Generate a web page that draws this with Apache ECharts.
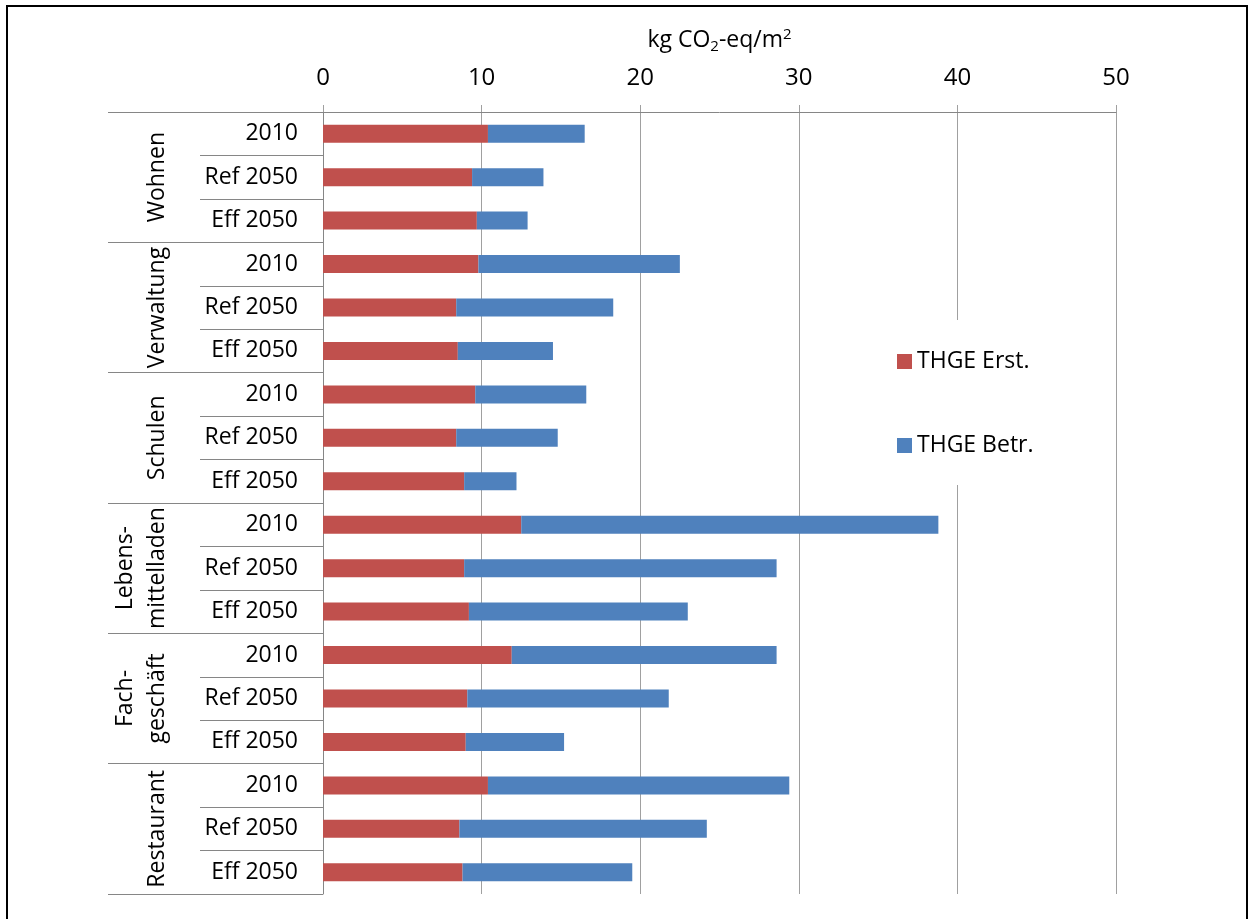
<!DOCTYPE html>
<html>
<head>
<meta charset="utf-8">
<script src="https://cdn.jsdelivr.net/npm/echarts@6/dist/echarts.min.js"></script>
<style>
  html, body { margin: 0; padding: 0; background: #fff; }
  #chart { position: absolute; left: 0; top: 0; width: 1248px; height: 919px; }
  #frame { position: absolute; left: 6px; top: 5px; width: 1242px; height: 1000px; border: 2px solid #000; box-sizing: border-box; pointer-events: none; }
</style>
</head>
<body>
<div id="chart"></div>
<div id="frame"></div>
<script>
// ---- data ----
const groups = ['Wohnen', 'Verwaltung', 'Schulen', 'Lebens-\nmittelladen', 'Fach-\ngeschäft', 'Restaurant'];
const scenarios = ['2010', 'Ref 2050', 'Eff 2050'];
const categories = [
  '2010', 'Ref 2050', 'Eff 2050',
  '2010', 'Ref 2050', 'Eff 2050',
  '2010', 'Ref 2050', 'Eff 2050',
  '2010', 'Ref 2050', 'Eff 2050',
  '2010', 'Ref 2050', 'Eff 2050',
  '2010', 'Ref 2050', 'Eff 2050'
];
const thgeErst = [10.4, 9.4, 9.7, 9.8, 8.4, 8.5, 9.6, 8.4, 8.9, 12.5, 8.9, 9.2, 11.9, 9.1, 9.0, 10.4, 8.6, 8.8];
const thgeBetr = [6.1, 4.5, 3.2, 12.7, 9.9, 6.0, 7.0, 6.4, 3.3, 26.3, 19.7, 13.8, 16.7, 12.7, 6.2, 19.0, 15.6, 10.7];
const xTicks = { min: 0, max: 50, interval: 10 };
const axisTitle = '{a|kg CO}{s|2}{a|-eq/m}{p|2}';
const seriesNames = ['THGE Erst.', 'THGE Betr.'];

// ---- chart ----
const FONT = 'Open Sans';
const gridLeft = 323, gridRight = 132;
const gridWidth = 1248 - gridLeft - gridRight;
const chart = echarts.init(document.getElementById('chart'), null, { renderer: 'canvas' });
chart.setOption({
  animation: false,
  backgroundColor: '#fff',
  textStyle: { fontFamily: FONT, color: '#000' },
  grid: { left: gridLeft, right: gridRight, top: 112, bottom: 25 },
  legend: {
    orient: 'vertical',
    left: 892,
    top: 320,
    padding: [30, 10, 28, 5],
    backgroundColor: '#fff',
    itemWidth: 15,
    itemHeight: 15,
    itemGap: 61,
    icon: 'rect',
    textStyle: { fontFamily: FONT, fontSize: 23, color: '#000' },
    data: seriesNames
  },
  xAxis: {
    type: 'value',
    position: 'top',
    min: xTicks.min, max: xTicks.max, interval: xTicks.interval,
    name: axisTitle,
    nameLocation: 'middle',
    nameGap: 58,
    nameTextStyle: {
      fontFamily: FONT, fontSize: 23, color: '#000',
      rich: {
        a: { fontFamily: FONT, fontSize: 23, color: '#000' },
        s: { fontFamily: FONT, fontSize: 15, color: '#000', padding: [12, 0, 0, 0] },
        p: { fontFamily: FONT, fontSize: 15, color: '#000', padding: [0, 0, 12, 0] }
      }
    },
    axisLine: { show: true, lineStyle: { color: '#868686', width: 1 } },
    axisTick: { show: true, length: 7, lineStyle: { color: '#a0a0a0' } },
    axisLabel: { fontFamily: FONT, fontSize: 24, color: '#000', margin: 22 },
    splitLine: { show: true, lineStyle: { color: '#a0a0a0', width: 1 } }
  },
  yAxis: [
    {
      type: 'category',
      data: categories,
      inverse: true,
      position: 'left',
      axisLine: { show: true, lineStyle: { color: '#868686', width: 1 } },
      axisTick: { show: true, length: 123, lineStyle: { color: '#868686' } },
      axisLabel: { fontFamily: FONT, fontSize: 23, color: '#000', margin: 25, interval: 0 },
      splitLine: { show: false }
    },
    {
      type: 'category',
      data: groups,
      inverse: true,
      position: 'right',
      offset: -gridWidth,
      axisLine: { show: false },
      axisTick: { show: true, inside: true, length: 215, lineStyle: { color: '#868686' } },
      axisLabel: { inside: true, rotate: 90, fontFamily: FONT, fontSize: 23, color: '#000', margin: 150, interval: 0, lineHeight: 32 },
      splitLine: { show: false }
    }
  ],
  series: [
    {
      name: seriesNames[0], type: 'bar', stack: 'total', yAxisIndex: 0,
      barWidth: 18,
      itemStyle: { color: '#C0504D' },
      data: thgeErst
    },
    {
      name: seriesNames[1], type: 'bar', stack: 'total', yAxisIndex: 0,
      barWidth: 18,
      itemStyle: { color: '#4F81BD' },
      data: thgeBetr
    }
  ]
});
</script>
</body>
</html>
